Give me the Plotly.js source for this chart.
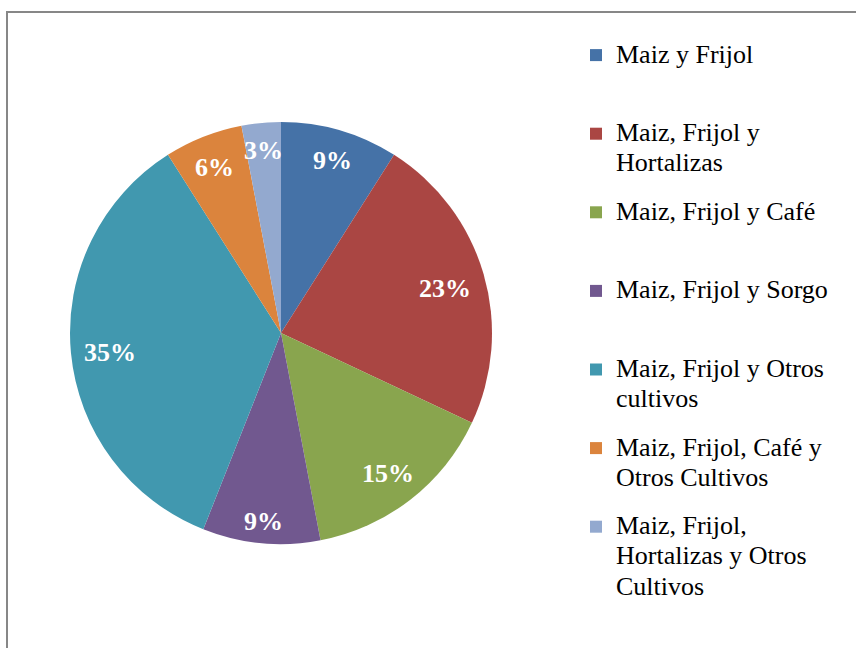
<!DOCTYPE html>
<html><head><meta charset="utf-8">
<script src="https://cdn.plot.ly/plotly-3.0.1.min.js"></script>
<style>html,body{margin:0;padding:0;background:#fff}#chart{width:856px;height:648px}</style>
</head><body><div id="chart"></div>
<script>
// ---- data ----
const categories = [
  'Maiz y Frijol',
  'Maiz, Frijol y Hortalizas',
  'Maiz, Frijol y Café',
  'Maiz, Frijol y Sorgo',
  'Maiz, Frijol y Otros cultivos',
  'Maiz, Frijol, Café y Otros Cultivos',
  'Maiz, Frijol, Hortalizas y Otros Cultivos'
];
const percentages = [9, 23, 15, 9, 35, 6, 3];
const colors = ['#4572A7', '#AA4643', '#89A54E', '#71588F', '#4198AF', '#DB843D', '#93A9CF'];

// ---- layout helpers ----
const W = 856, H = 648;
const domX = [70 / W, 492 / W];
const domY = [1 - 544 / H, 1 - 122 / H];
const FONT = 'Liberation Serif';
const LEGEND_SLOTS = 3;          // every legend entry gets the same height (3 line slots)
const LEGEND_LINE = 25.2;        // px per line slot
const LINE_GAP = 30;             // visual spacing between wrapped lines

function wrap(s, max) {
  const words = s.split(' ');
  const lines = [];
  let cur = '';
  for (const w of words) {
    const t = cur ? cur + ' ' + w : w;
    if (t.length > max && cur) { lines.push(cur); cur = w; } else cur = t;
  }
  if (cur) lines.push(cur);
  return lines;
}
const legendLabels = categories.map(c => {
  const lines = wrap(c, 20).map((l, k) =>
    '<span style="font-size:26px;baseline-shift:' + (-k * (LINE_GAP - LEGEND_LINE)).toFixed(1) + 'px">' + l + '</span>');
  while (lines.length < LEGEND_SLOTS) lines.push('');
  return lines.join('<br>');
});

// percentage labels placed near the outer edge of each slice
const total = percentages.reduce((a, b) => a + b, 0);
const cx = (domX[0] + domX[1]) / 2 * W;
const cy = (1 - (domY[0] + domY[1]) / 2) * H;
const rad = (domX[1] - domX[0]) * W / 2;
let cum = 0;
const annotations = percentages.map(v => {
  const a = (cum + v / 2) / total * 2 * Math.PI;
  cum += v;
  const hw = (String(v).length * 0.5 + 1) * 26 / 2, hh = 11;
  const ext = Math.abs(Math.cos(a)) * hh + Math.abs(Math.sin(a)) * hw;
  const d = rad - 12 - ext;
  const px = cx + d * Math.sin(a), py = cy - d * Math.cos(a);
  return {
    xref: 'paper', yref: 'paper', x: px / W, y: 1 - py / H, yshift: -3,
    xanchor: 'center', yanchor: 'middle', showarrow: false,
    text: '<b>' + Math.round(v / total * 100) + '%</b>',
    font: {family: FONT, size: 26, color: '#ffffff'}
  };
});

const trace = {
  type: 'pie',
  labels: legendLabels,
  values: percentages,
  sort: false,
  direction: 'clockwise',
  rotation: 0,
  textinfo: 'none',
  hoverinfo: 'percent',
  marker: {colors: colors, line: {width: 0}},
  domain: {x: domX, y: domY}
};

const layout = {
  width: W, height: H,
  margin: {l: 0, r: 0, t: 0, b: 0},
  paper_bgcolor: '#ffffff',
  font: {family: FONT},
  showlegend: true,
  legend: {
    x: 576 / W, xanchor: 'left', y: 1 - 36 / H, yanchor: 'top',
    font: {family: FONT, size: LEGEND_LINE / 1.3, color: '#000000'},
    valign: 'top', bgcolor: 'rgba(0,0,0,0)', traceorder: 'normal'
  },
  annotations: annotations,
  shapes: [{
    type: 'rect', xref: 'paper', yref: 'paper',
    x0: 7 / W, x1: 1.05, y0: -0.05, y1: 1 - 12 / H,
    line: {color: '#878787', width: 2}, fillcolor: 'rgba(0,0,0,0)', layer: 'below'
  }]
};

Plotly.newPlot('chart', [trace], layout, {displayModeBar: false, staticPlot: true});
</script>
</body></html>
